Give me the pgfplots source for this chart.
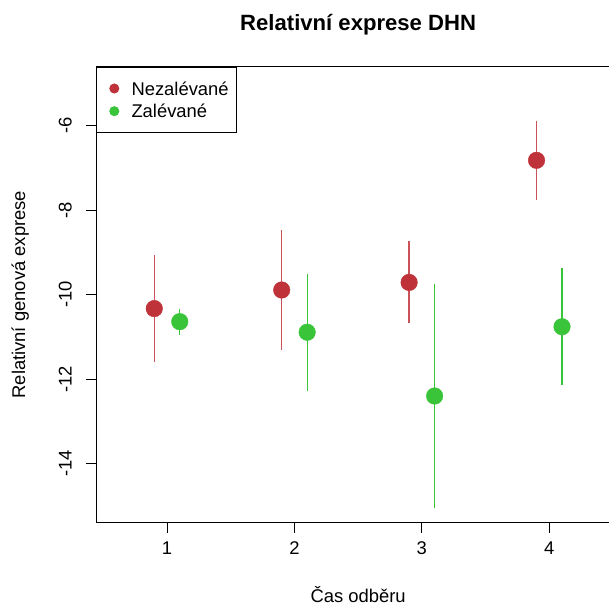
\documentclass[border=0pt]{standalone}
\usepackage{pgfplots}
\pgfplotsset{compat=1.18}
\usepackage{fontspec}
\setmainfont{Liberation Sans}

\definecolor{nezal}{RGB}{192,50,58}
\definecolor{zal}{RGB}{58,196,58}

% mean, error (symmetric), x shifted by -0.1 / +0.1
\pgfplotstableread{
x    y       e
0.9  -10.33  1.27
1.9  -9.89   1.41
2.9  -9.71   0.97
3.9  -6.82   0.94
}\nezalevane
\pgfplotstableread{
x    y       e
1.1  -10.64  0.31
2.1  -10.89  1.39
3.1  -12.40  2.65
4.1  -10.76  1.38
}\zalevane

\begin{document}
\begin{tikzpicture}
\begin{axis}[
    at={(96.3bp,85.7bp)}, anchor=south west,
    scale only axis,
    width=523.7bp, height=455.3bp,
    xmin=0.445, xmax=4.555,
    ymin=-15.39, ymax=-4.61,
    axis line style={line width=1bp, black},
    xtick={1,2,3,4}, xticklabels={1,2,3,4},
    ytick={-14,-12,-10,-8,-6}, yticklabels={-14,-12,-10,-8,-6},
    tick align=outside, tickwidth=10.6bp,
    major tick style={line width=1bp, black},
    xtick pos=bottom, ytick pos=left,
    tick label style={font=\fontsize{18.4bp}{22bp}\selectfont},
    xticklabel style={anchor=north, inner sep=0pt, yshift=-9bp},
    yticklabel style={xshift=-14bp, rotate=90, anchor=base, inner sep=0pt},
    title={Relativní exprese DHN},
    title style={at={(axis description cs:0.5,1.080)}, anchor=center,
        font=\bfseries\fontsize{22.1bp}{26bp}\selectfont},
    xlabel={Čas odběru},
    xlabel style={at={(axis description cs:0.5,-0.159)}, anchor=center,
        font=\fontsize{18.4bp}{22bp}\selectfont},
    ylabel={Relativní genová exprese},
    ylabel style={at={(axis description cs:-0.145,0.5)}, anchor=center, rotate=0,
        font=\fontsize{18.4bp}{22bp}\selectfont},
    legend cell align=left,
    legend style={at={(axis description cs:0,1)}, anchor=north west,
        draw=black, line width=1bp, inner xsep=8bp, inner ysep=14.4bp,
        row sep=9.5bp,
        nodes={inner sep=0pt, text height=13.2bp, text depth=0pt,
               font=\fontsize{18.4bp}{22bp}\selectfont},
        /tikz/every odd column/.style={column sep=12.2bp}},
    legend image code/.code={
        \path (0bp,0bp) (13.5bp,0bp);
        \fill (9bp,0bp) circle (4.5bp);
    },
]
\addplot[color=nezal, only marks, mark=*, mark size=8.3bp,
    mark options={draw=none, fill=nezal},
    error bars/.cd, y dir=both, y explicit, error mark=none,
    error bar style={line width=1.3bp, nezal, opacity=0.85}]
    table[x=x, y=y, y error=e] {\nezalevane};
\addlegendentry{Nezalévané}
\addplot[color=zal, only marks, mark=*, mark size=8.3bp,
    mark options={draw=none, fill=zal},
    error bars/.cd, y dir=both, y explicit, error mark=none,
    error bar style={line width=1.3bp, zal}]
    table[x=x, y=y, y error=e] {\zalevane};
\addlegendentry{Zalévané}
\end{axis}
\pgfresetboundingbox
\path[use as bounding box] (0bp,0bp) rectangle (609bp,608bp);
\end{tikzpicture}
\end{document}
